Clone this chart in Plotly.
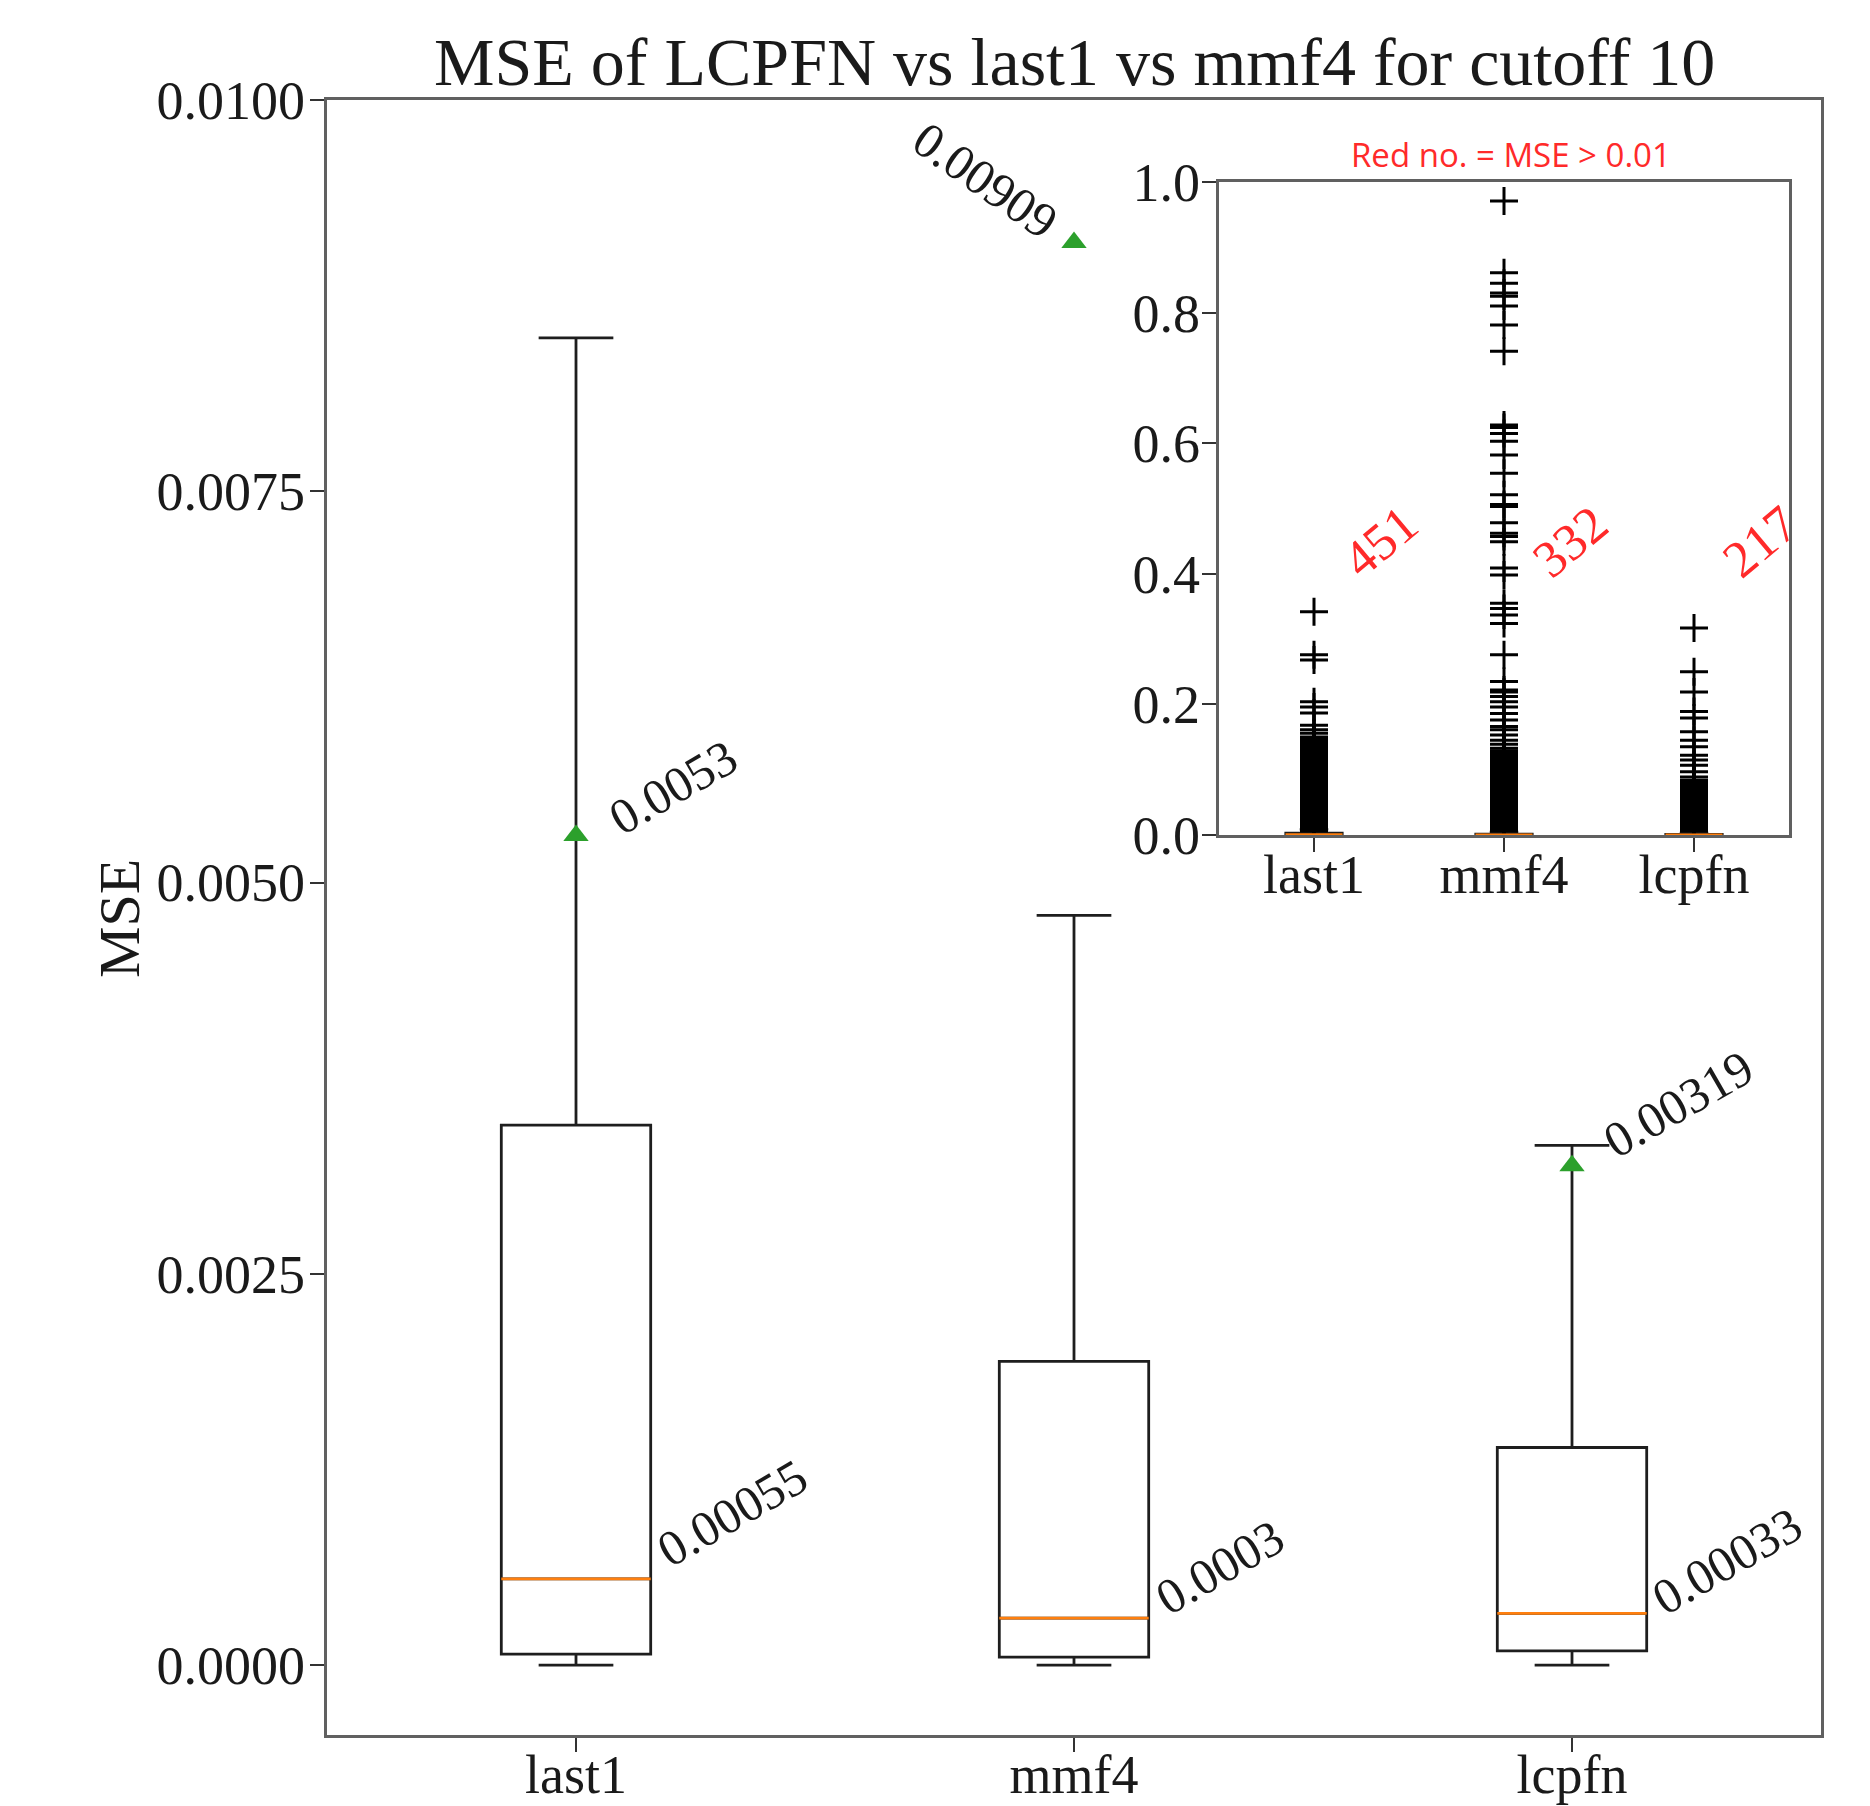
import plotly.graph_objects as go

# ---------------- data ----------------
categories = ["last1", "mmf4", "lcpfn"]
positions = [1, 2, 3]
lower_whisker = [0.0, 0.0, 0.0]
q1 = [0.00007, 0.00005, 0.00009]
median = [0.00055, 0.0003, 0.00033]
q3 = [0.00345, 0.00194, 0.00139]
upper_whisker = [0.00848, 0.00479, 0.00332]
means = [0.0053, 0.00909, 0.00319]
median_labels = ["0.00055", "0.0003", "0.00033"]
mean_labels = ["0.0053", "0.00909", "0.00319"]
count_above = ["451", "332", "217"]

main_yticks = [0.0, 0.0025, 0.005, 0.0075, 0.01]
inset_yticks = [0.0, 0.2, 0.4, 0.6, 0.8, 1.0]

fliers_last1 = [0.342, 0.276, 0.268, 0.204, 0.196, 0.187, 0.168, 0.161, 0.156,
                0.150, 0.148, 0.146, 0.144, 0.142, 0.140, 0.138, 0.135, 0.133,
                0.131, 0.129, 0.127, 0.125, 0.122, 0.120, 0.118, 0.116, 0.114,
                0.112, 0.109, 0.107, 0.105, 0.103, 0.100, 0.098, 0.096, 0.094,
                0.092, 0.090, 0.087, 0.085, 0.083, 0.081, 0.079, 0.077, 0.074,
                0.072, 0.070, 0.068, 0.066, 0.064, 0.061, 0.059, 0.057, 0.055,
                0.053, 0.051, 0.048, 0.046, 0.044, 0.042, 0.040, 0.038, 0.035,
                0.033, 0.031, 0.029, 0.027, 0.025, 0.022, 0.020, 0.018, 0.016,
                0.014, 0.012, 0.010, 0.008, 0.006]
fliers_mmf4 = [0.971, 0.861, 0.845, 0.830, 0.825, 0.810, 0.781, 0.741, 0.628,
               0.624, 0.615, 0.603, 0.582, 0.554, 0.521, 0.506, 0.503, 0.478,
               0.462, 0.457, 0.449, 0.409, 0.398, 0.355, 0.347, 0.337, 0.324,
               0.276, 0.235, 0.222, 0.219, 0.212, 0.204, 0.196, 0.186, 0.176,
               0.166, 0.161, 0.153, 0.145, 0.139, 0.133, 0.129, 0.125, 0.122,
               0.120, 0.118, 0.116, 0.114, 0.112, 0.109, 0.107, 0.105, 0.103,
               0.100, 0.098, 0.096, 0.094, 0.092, 0.090, 0.087, 0.085, 0.083,
               0.081, 0.079, 0.077, 0.074, 0.072, 0.070, 0.068, 0.066, 0.064,
               0.061, 0.059, 0.057, 0.055, 0.053, 0.051, 0.048, 0.046, 0.044,
               0.042, 0.040, 0.038, 0.035, 0.033, 0.031, 0.029, 0.027, 0.025,
               0.022, 0.020, 0.018, 0.016, 0.014, 0.012, 0.010, 0.008, 0.006]
fliers_lcpfn = [0.317, 0.250, 0.219, 0.189, 0.179, 0.158, 0.145, 0.135, 0.122,
                0.115, 0.107, 0.097, 0.089, 0.084, 0.082, 0.080, 0.078, 0.076,
                0.074, 0.072, 0.070, 0.068, 0.066, 0.064, 0.062, 0.060, 0.058,
                0.056, 0.054, 0.051, 0.048, 0.046, 0.044, 0.042, 0.040, 0.038,
                0.035, 0.033, 0.031, 0.029, 0.027, 0.025, 0.022, 0.020, 0.018,
                0.016, 0.014, 0.012, 0.010, 0.008, 0.006]
fliers = [fliers_last1, fliers_mmf4, fliers_lcpfn]

# ---------------- style ----------------
SERIF = "Liberation Serif"
TXT = "#1a1a1a"
SPINE = "#606060"
BOXW = 0.3
ORANGE = "#ff7f0e"
GREEN = "#2ca02c"
W, H = 1870, 1806


def px(X):
    return X / W


def py(Y):
    return 1 - Y / H


fig = go.Figure()


def add_boxes(xa, ya, lw):
    for i, p in enumerate(positions):
        fig.add_trace(go.Box(
            x=[p], q1=[q1[i]], median=[median[i]], q3=[q3[i]],
            lowerfence=[lower_whisker[i]], upperfence=[upper_whisker[i]],
            width=BOXW, whiskerwidth=0.5, boxpoints=False,
            line=dict(color="#1e1e1e", width=lw), fillcolor="rgba(255,255,255,0)",
            xaxis=xa, yaxis=ya, showlegend=False, hoverinfo="skip"))
        fig.add_trace(go.Scatter(
            x=[p - BOXW / 2, p + BOXW / 2], y=[median[i], median[i]],
            mode="lines", line=dict(color=ORANGE, width=2.8),
            xaxis=xa, yaxis=ya, showlegend=False, hoverinfo="skip"))


add_boxes("x", "y", 2.8)
fig.add_trace(go.Scatter(
    x=positions, y=means, mode="markers",
    marker=dict(symbol="triangle-up", size=22, color=GREEN),
    showlegend=False, hoverinfo="skip"))

# inset
for i, p in enumerate(positions):
    fig.add_trace(go.Scatter(
        x=[p] * len(fliers[i]), y=fliers[i], mode="markers",
        marker=dict(symbol="cross-thin", size=20,
                    line=dict(width=3, color="black")),
        xaxis="x2", yaxis="y2", showlegend=False, hoverinfo="skip"))
add_boxes("x2", "y2", 2.2)

# ---------------- annotations ----------------
ann = []
med_shift = [(156, 66), (146, 51), (155, 52)]
mean_shift = [(97, 49), (-89, 62), (106, 62)]
mean_angle = [-30, 35, -30]
for i, p in enumerate(positions):
    ann.append(dict(x=p, y=median[i], xref="x", yref="y", text=median_labels[i],
                    showarrow=False, textangle=-30, xshift=med_shift[i][0],
                    yshift=med_shift[i][1], font=dict(family=SERIF, size=50, color=TXT)))
    ann.append(dict(x=p, y=means[i], xref="x", yref="y", text=mean_labels[i],
                    showarrow=False, textangle=mean_angle[i], xshift=mean_shift[i][0],
                    yshift=mean_shift[i][1], font=dict(family=SERIF, size=50, color=TXT)))
    ann.append(dict(x=p, y=0.45, xref="x2", yref="y2", text=count_above[i],
                    showarrow=False, textangle=-40, xshift=66,
                    font=dict(family=SERIF, size=52, color="#ff2a2a")))

ann.append(dict(x=px(0.5 * (327 + 1821)), y=py(62), xref="paper", yref="paper",
                text="MSE of LCPFN vs last1 vs mmf4 for cutoff 10", showarrow=False,
                xanchor="center", yanchor="middle",
                font=dict(family=SERIF, size=68, color=TXT)))
ann.append(dict(x=px(119), y=py(918), xref="paper", yref="paper", text="MSE",
                showarrow=False, textangle=-90, xanchor="center", yanchor="middle",
                font=dict(family=SERIF, size=58, color=TXT)))
ann.append(dict(x=px(1511), y=py(154), xref="paper", yref="paper",
                text="Red no. = MSE > 0.01", showarrow=False,
                xanchor="center", yanchor="middle",
                font=dict(family="Open Sans", size=33, color="#ff2a2a")))

axis_common = dict(showline=True, linecolor=SPINE, linewidth=3.2, mirror=True,
                   showgrid=False, zeroline=False, ticks="outside", ticklen=14,
                   tickwidth=2, tickcolor="#333333", automargin=False,
                   tickfont=dict(family=SERIF, size=54, color=TXT))

fig.update_layout(
    width=W, height=H, margin=dict(l=0, r=0, t=0, b=0, autoexpand=False),
    paper_bgcolor="white", plot_bgcolor="white",
    font=dict(family=SERIF, color=TXT),
    showlegend=False, annotations=ann,
    xaxis=dict(domain=[px(327), px(1821)], range=[0.5, 3.5], tickvals=positions,
               ticktext=categories, anchor="y", ticklabelstandoff=-24, **axis_common),
    yaxis=dict(domain=[py(1735), py(100)], range=[-0.000447, 0.01],
               tickvals=main_yticks, tickformat=".4f", anchor="x",
               ticklabelstandoff=-6, **axis_common),
    xaxis2=dict(domain=[px(1219), px(1789)], range=[0.5, 3.5], tickvals=positions,
                ticktext=categories, anchor="y2", ticklabelstandoff=-24, **axis_common),
    yaxis2=dict(domain=[py(835), py(182)], range=[0, 1.0],
                tickvals=inset_yticks, tickformat=".1f", anchor="x2",
                ticklabelstandoff=-9, **axis_common),
)

fig.write_html("out.html", config={"displayModeBar": False},
               post_script="document.body.style.margin='0';document.body.style.overflow='hidden';")
